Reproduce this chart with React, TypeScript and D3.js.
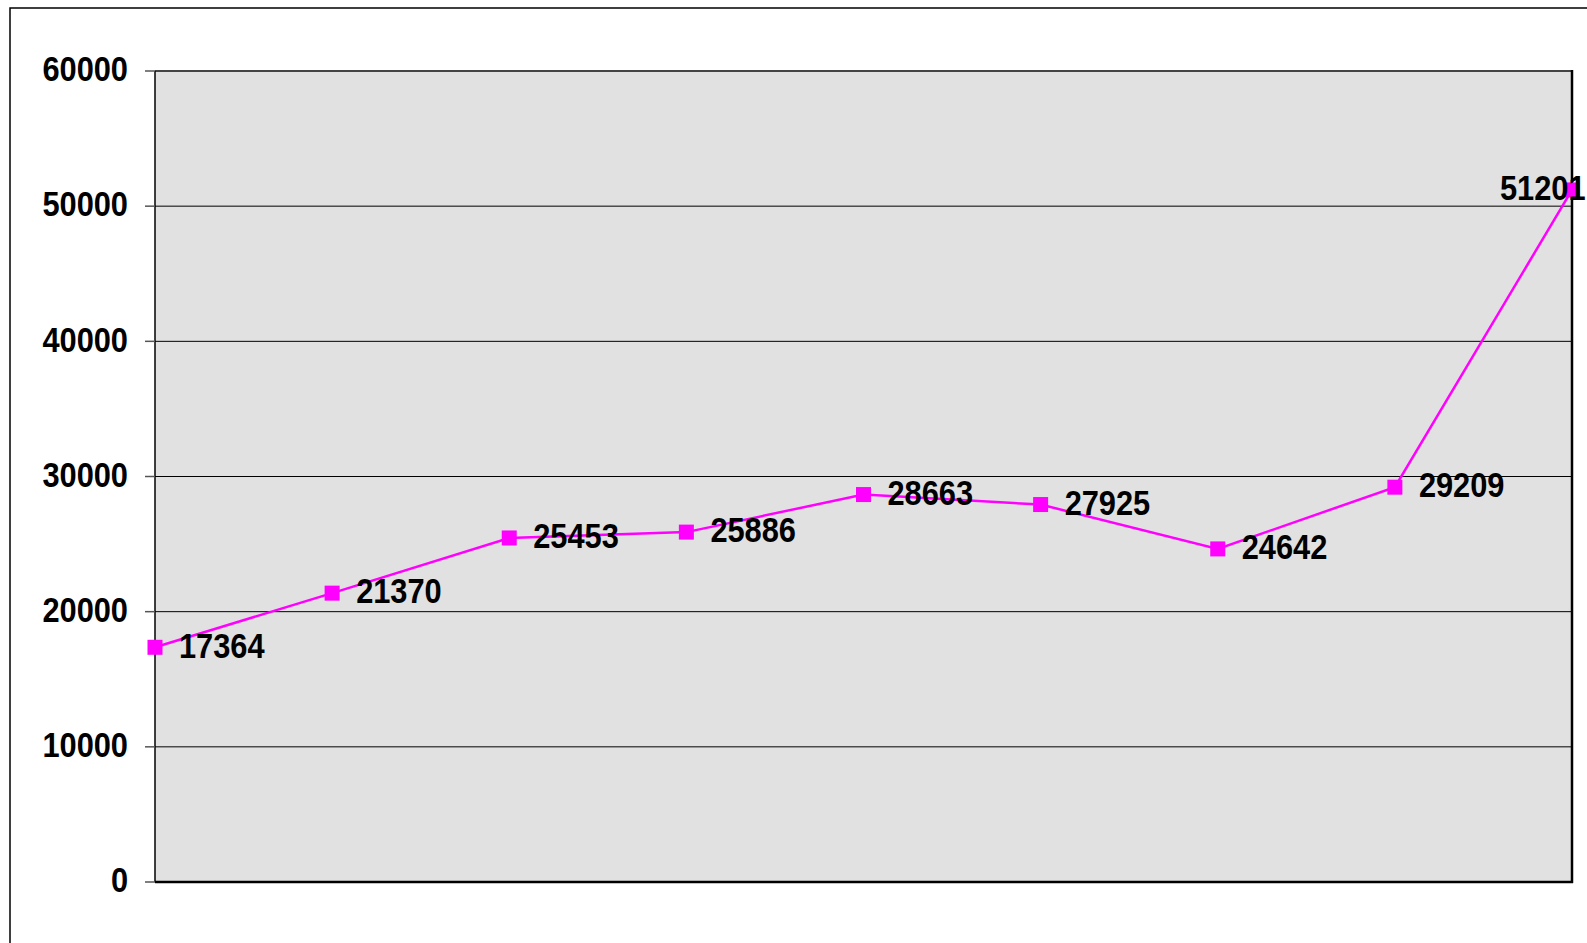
import React from "react";
import * as d3 from "d3";

const categories = ["1", "2", "3", "4", "5", "6", "7", "8", "9"];
const values = [17364, 21370, 25453, 25886, 28663, 27925, 24642, 29209, 51201];
const yTicks = [0, 10000, 20000, 30000, 40000, 50000, 60000];

const W = 1587;
const H = 943;
const plot = { left: 155, top: 71, right: 1572, bottom: 882 };
const FONT = "'Liberation Sans', Arial, sans-serif";
const FS = 35;
const SX = 0.88;
const MS = 15;

export default function App() {
  const x = d3
    .scalePoint<string>()
    .domain(categories)
    .range([plot.left, plot.right]);
  const y = d3.scaleLinear().domain([0, 60000]).range([plot.bottom, plot.top]);

  const line = d3
    .line<number>()
    .x((_, i) => x(categories[i]) as number)
    .y((d) => y(d));

  const labelW = 85;

  return (
    <svg
      width={W}
      height={H}
      style={{ position: "absolute", left: 0, top: 0, background: "#fff" }}
    >
      {/* outer chart frame */}
      <rect x={10} y={8} width={W + 20} height={H + 20} fill="#fff" stroke="#000" strokeWidth={1.5} />

      {/* plot area */}
      <rect
        x={plot.left}
        y={plot.top}
        width={plot.right - plot.left}
        height={plot.bottom - plot.top}
        fill="#E1E1E1"
      />

      {/* gridlines */}
      {yTicks.map((t) => (
        <line
          key={"g" + t}
          x1={plot.left}
          x2={plot.right}
          y1={y(t)}
          y2={y(t)}
          stroke="#000"
          strokeWidth={1}
        />
      ))}

      {/* plot borders */}
      <line x1={plot.left} x2={plot.right} y1={plot.top} y2={plot.top} stroke="#444" strokeWidth={2} />
      <line x1={plot.left} x2={plot.left} y1={plot.top} y2={plot.bottom} stroke="#000" strokeWidth={1.5} />
      <line x1={plot.right} x2={plot.right} y1={plot.top - 1} y2={plot.bottom + 1} stroke="#000" strokeWidth={2.5} />
      <line x1={plot.left} x2={plot.right + 1} y1={plot.bottom} y2={plot.bottom} stroke="#000" strokeWidth={2.5} />

      {/* y ticks and labels */}
      {yTicks.map((t) => (
        <g key={"t" + t}>
          <line x1={plot.left - 10} x2={plot.left} y1={y(t)} y2={y(t)} stroke="#555" strokeWidth={1.5} />
          <text
            transform={`translate(128,${y(t) - 2}) scale(${SX},1)`}
            textAnchor="end"
            dominantBaseline="central"
            fontFamily={FONT}
            fontWeight="bold"
            fontSize={FS}
            fill="#000"
          >
            {t}
          </text>
        </g>
      ))}

      {/* series line */}
      <path d={line(values) || ""} fill="none" stroke="#FF00FF" strokeWidth={2.5} />

      {/* markers */}
      {values.map((v, i) => (
        <rect
          key={"m" + i}
          x={(x(categories[i]) as number) - MS / 2}
          y={y(v) - MS / 2}
          width={MS}
          height={MS}
          fill="#FF00FF"
        />
      ))}

      {/* data labels */}
      {values.map((v, i) => {
        const px = x(categories[i]) as number;
        let lx = px + 24;
        if (lx + labelW > W) lx = W - labelW - 2;
        return (
          <text
            key={"l" + i}
            transform={`translate(${lx},${y(v) - 2}) scale(${SX},1)`}
            dominantBaseline="central"
            fontFamily={FONT}
            fontWeight="bold"
            fontSize={FS}
            fill="#000"
          >
            {v}
          </text>
        );
      })}
    </svg>
  );
}
